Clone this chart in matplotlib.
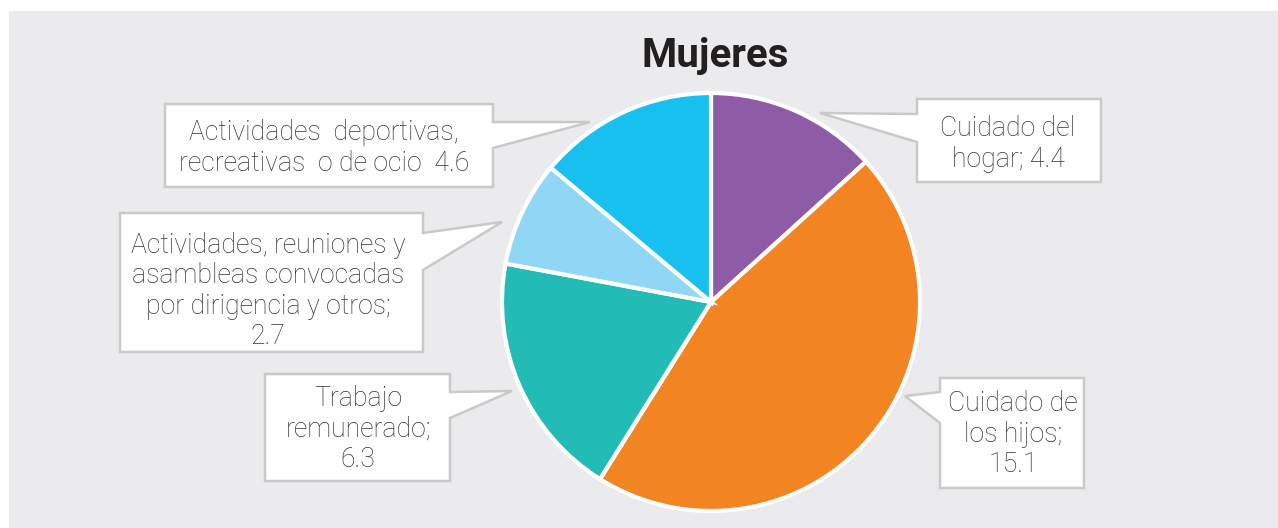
import matplotlib.pyplot as plt
from matplotlib.patches import Polygon, Rectangle

# Data
labels = ['Cuidado del\nhogar; 4.4',
          'Cuidado de\nlos hijos;\n15.1',
          'Trabajo\nremunerado;\n6.3',
          'Actividades, reuniones y\nasambleas convocadas\npor dirigencia y otros;\n2.7',
          'Actividades  deportivas,\nrecreativas  o de ocio  4.6']
values = [4.4, 15.1, 6.3, 2.7, 4.6]
colors = ['#8e5ba6', '#f38422', '#22bbb6', '#8fd7f5', '#18c0f0']

W, H = 1278, 528

fig = plt.figure(figsize=(W / 100, H / 100), dpi=100)
ax = fig.add_axes([0, 0, 1, 1])
ax.set_xlim(0, W)
ax.set_ylim(0, H)

# gray panel
ax.add_patch(Rectangle((9, 0), W - 9, H - 11, fc='#ebebed', ec='none', zorder=0))

ax.pie(values, colors=colors, startangle=90, counterclock=False,
       radius=209, center=(711, H - 302), frame=True,
       wedgeprops=dict(edgecolor='white', linewidth=3))
ax.set_xlim(0, W)
ax.set_ylim(0, H)
ax.set_aspect('equal')
ax.axis('off')

# callout boxes: box (x0, y0, x1, y1), side, tip, base y range, text centre
callouts = [
    ((917, 99, 1101, 182), 'left', (820, 113), (114, 142), (1008, 144)),
    ((940, 378, 1084, 488), 'left', (905, 396), (392, 423), (1013, 434)),
    ((265, 374, 450, 481), 'right', (512, 391), (392, 418), (358, 429)),
    ((120, 213, 423, 352), 'right', (502, 222), (233, 270), (268, 291)),
    ((165, 104, 493, 187), 'right', (590, 122), (122, 148), (324, 148)),
]

for (box, side, tip, base, tc), lab in zip(callouts, labels):
    x0, y0, x1, y1 = box
    if side == 'left':
        pts = [(x0, y0), (x1, y0), (x1, y1), (x0, y1), (x0, base[1]), tip, (x0, base[0])]
    else:
        pts = [(x0, y0), (x1, y0), (x1, base[0]), tip, (x1, base[1]), (x1, y1), (x0, y1)]
    pts = [(px, H - py) for px, py in pts]
    ax.add_patch(Polygon(pts, closed=True, fc='white', ec='#c9c9c9', lw=1.8, zorder=5))
    ax.text(tc[0], H - tc[1], lab, ha='center', va='center', fontsize=19.2,
            family='Roboto', weight='light', color='#333333',
            linespacing=1.17, zorder=6)

ax.text(715, H - 67, 'Mujeres', ha='center', va='baseline', fontsize=29,
        family='Roboto', weight='bold', color='#231f20')

fig.savefig('out.png', dpi=100, facecolor='white')
